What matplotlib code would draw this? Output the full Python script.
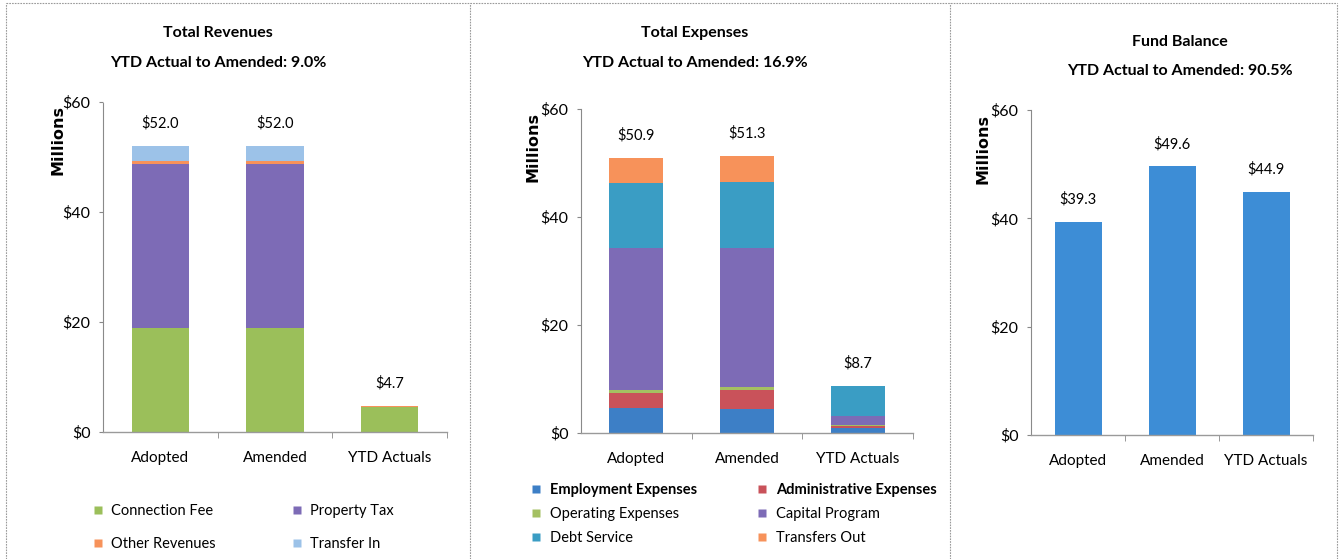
import numpy as np
import matplotlib
matplotlib.use("Agg")
import matplotlib.pyplot as plt
from matplotlib.lines import Line2D

plt.rcParams['font.family'] = ['Lato', 'DejaVu Sans']

categories = ["Adopted", "Amended", "YTD Actuals"]

# revenues, $ millions
rev_labels = ["Connection Fee", "Property Tax", "Other Revenues", "Transfer In"]
connection_fee = [18.9, 18.9, 4.5]
property_tax = [29.9, 29.9, 0.0]
other_revenues = [0.5, 0.5, 0.2]
transfer_in = [2.7, 2.7, 0.0]
rev_colors = ["#9bbf5a", "#7d6bb6", "#f7925a", "#9cc2e8"]

# expenses, $ millions
exp_labels = ["Employment Expenses", "Administrative Expenses", "Operating Expenses",
              "Capital Program", "Debt Service", "Transfers Out"]
employment = [4.6, 4.4, 1.0]
administrative = [2.8, 3.5, 0.3]
operating = [0.6, 0.6, 0.1]
capital = [26.3, 25.8, 1.7]
debt_service = [12.0, 12.1, 5.6]
transfers_out = [4.6, 4.9, 0.0]
exp_colors = ["#3d7fc6", "#c9525a", "#a4c062", "#7d6bb6", "#3a9dc4", "#f7925a"]

# fund balance, $ millions
fund_balance = [39.3, 49.6, 44.9]
fund_color = "#3d8dd6"

titles = [("Total Revenues", "YTD Actual to Amended: 9.0%"),
          ("Total Expenses", "YTD Actual to Amended: 16.9%"),
          ("Fund Balance", "YTD Actual to Amended: 90.5%")]

W, H = 1340, 559
fig = plt.figure(figsize=(W / 100, H / 100), dpi=100)


def px_axes(left, right, top, bottom):
    return fig.add_axes([left / W, 1 - bottom / H, (right - left) / W, (bottom - top) / H])


def style_axes(ax):
    ax.set_xlim(-0.5, 2.5)
    ax.set_ylim(0, 60)
    ax.set_yticks([0, 20, 40, 60])
    ax.set_yticklabels(["$0", "$20", "$40", "$60"], fontsize=11.5)
    ax.set_xticks(range(3))
    ax.set_xticklabels(categories, fontsize=11)
    ax.set_xticks([0.5, 1.5, 2.5], minor=True)
    ax.tick_params(axis='x', which='major', length=0, pad=14)
    ax.tick_params(axis='x', which='minor', length=4, color='#888888')
    ax.tick_params(axis='y', length=3, color='#888888', pad=6)
    for s in ('top', 'right'):
        ax.spines[s].set_visible(False)
    ax.spines['left'].set_color('#8a8a8a')
    ax.spines['left'].set_linestyle((0, (2, 1)))
    ax.spines['left'].set_linewidth(0.8)
    ax.spines['bottom'].set_color('#9a9a9a')
    ax.spines['bottom'].set_linewidth(1.0)


def stack(ax, series, colors, width):
    x = np.arange(len(categories))
    bottom = np.zeros(len(categories))
    for vals, c in zip(series, colors):
        ax.bar(x, vals, width, bottom=bottom, color=c, edgecolor='none')
        bottom = bottom + np.array(vals)
    for xi, tot in zip(x, bottom):
        ax.annotate(f"${tot:.1f}", (xi, tot), xytext=(0, 11), textcoords='offset points',
                    ha='center', va='bottom', fontsize=10.5)


# Total Revenues
ax1 = px_axes(103, 447, 102, 432)
stack(ax1, [connection_fee, property_tax, other_revenues, transfer_in], rev_colors, 0.5)
style_axes(ax1)

# Total Expenses
ax2 = px_axes(581, 913, 109, 433)
stack(ax2, [employment, administrative, operating, capital, debt_service, transfers_out],
      exp_colors, 0.49)
style_axes(ax2)

# Fund Balance
ax3 = px_axes(1031, 1313, 110, 435)
stack(ax3, [fund_balance], [fund_color], 0.5)
style_axes(ax3)

# titles and y labels
title_pos = [(218, 33, 63), (695, 33, 63), (1180, 42, 71)]
for (t1, t2), (cx, y1, y2) in zip(titles, title_pos):
    fig.text(cx / W, 1 - y1 / H, t1, ha='center', va='center', fontsize=11.5, fontweight='bold')
    fig.text(cx / W, 1 - y2 / H, t2, ha='center', va='center', fontsize=11.5, fontweight='bold')

for lx, ly in [(58, 140), (533, 147), (983, 149)]:
    fig.text(lx / W, 1 - ly / H, "Millions", rotation=90, ha='center', va='center',
             fontsize=11.5, fontweight='bold', family=['DejaVu Sans'])


def sq(c):
    return Line2D([], [], marker='s', linestyle='none', markersize=6,
                  markerfacecolor=c, markeredgecolor='none')


# revenue legend (column-major order)
order = [0, 2, 1, 3]
leg1 = fig.legend([sq(rev_colors[i]) for i in order], [rev_labels[i] for i in order],
                  ncol=2, loc='upper left', bbox_to_anchor=(92 / W, 1 - 504 / H),
                  frameon=False, fontsize=10.5, handlelength=0.8, handletextpad=0.5,
                  columnspacing=5.2, labelspacing=1.3, borderpad=0, borderaxespad=0)

order = [0, 2, 4, 1, 3, 5]
leg2 = fig.legend([sq(exp_colors[i]) for i in order], [exp_labels[i] for i in order],
                  ncol=2, loc='upper left', bbox_to_anchor=(530 / W, 1 - 483 / H),
                  frameon=False, fontsize=10.5, handlelength=0.8, handletextpad=0.6,
                  columnspacing=4.0, labelspacing=0.7, borderpad=0, borderaxespad=0)
for t in leg2.get_texts():
    if t.get_text() in ("Employment Expenses", "Administrative Expenses"):
        t.set_fontweight('bold')

# panel frame lines
frame = dict(color='#9a9a9a', linewidth=0.8, linestyle=(0, (1.5, 1)))
fig.add_artist(Line2D([6 / W, 1337 / W], [1 - 3 / H, 1 - 3 / H], **frame))
for xv in [6, 470, 950, 1337]:
    fig.add_artist(Line2D([xv / W, xv / W], [0, 1 - 3 / H], **frame))

fig.savefig("out.png", dpi=100)
